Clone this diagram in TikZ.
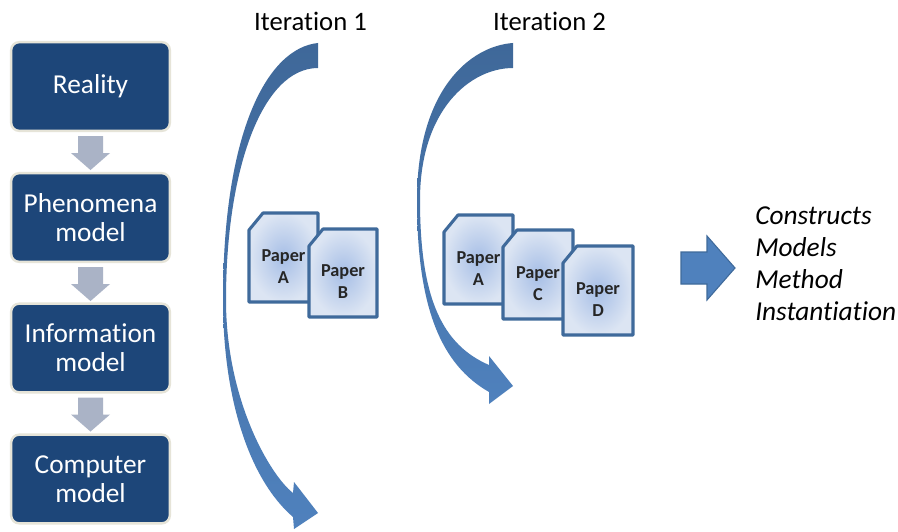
\documentclass[tikz,border=0pt]{standalone}
\usepackage{fontspec}
\setmainfont[Ligatures=NoCommon]{Carlito}
\usetikzlibrary{calc}
\definecolor{boxblue}{HTML}{1D4679}
\definecolor{boxedge}{HTML}{E6E4D8}
\definecolor{downgray}{HTML}{AAB3C6}
\definecolor{arrowdark}{HTML}{3F6899}
\definecolor{arrowblue}{HTML}{4F81BD}
\definecolor{paperedge}{HTML}{3F6A9B}
\definecolor{paperin}{HTML}{A6BEE6}
\definecolor{paperout}{HTML}{DCE5F3}
\tikzset{
  x=0.75pt,y=-0.75pt,
  stepbox/.style={draw=boxedge,line width=1.8pt,fill=boxblue,rounded corners=6pt,minimum width=119pt,minimum height=66.5pt,inner sep=0pt,align=center,text=white,font=\fontsize{20.5}{22}\selectfont},
  downarrow/.style={fill=downgray},
  sweep/.style={top color=arrowdark,bottom color=arrowblue,draw=none},
  sheet/.style={draw=paperedge,line width=2.3pt,line join=round,shade,shading=radial,inner color=paperin,outer color=paperout},
  sheetlabel/.style={align=center,font=\fontsize{13.7}{16.5}\selectfont\bfseries,text=black!85,inner sep=0pt},
  headlabel/.style={font=\fontsize{20}{24}\selectfont,inner sep=0pt},
  outlabel/.style={font=\fontsize{20.5}{24}\selectfont\itshape,align=left,inner sep=0pt,anchor=north west}
}
\newcommand{\downbetween}[1]{%
  \fill[downarrow] ($(#1.south)+(-12.5,4)$) -- ++(25,0) -- ++(0,17) -- ++(7,0) -- ++(-19.5,17) -- ++(-19.5,-17) -- ++(7,0) -- cycle;}
\newcommand{\sheetat}[5]{% left, top, right, bottom, name
  \path[sheet] (#1+14,#2) -- (#3,#2) -- (#3,#4) -- (#1,#4) -- (#1,#2+17) -- cycle;
  \node[sheetlabel] (#5) at ({(#1+#3)/2},{(#2+#4)/2+9}) {\sheettext};}
\newcommand{\sheettext}{}
\begin{document}
\begin{tikzpicture}
\useasboundingbox (0,0) rectangle (898,531);
\fill[white] (0,0) rectangle (898,531);
\node[stepbox] (reality) at (90.5,86.5) {Reality};
\node[stepbox] (phen) at (90.5,217.5) {Phenomena\\model};
\node[stepbox] (info) at (90.5,348) {Information\\model};
\node[stepbox] (comp) at (90.5,479) {Computer\\model};
\downbetween{reality}
\downbetween{phen}
\downbetween{info}
% iteration 1 sweep
\path[sweep] (318,43) .. controls (268,48) and (223,130) .. (223,300)
  .. controls (223,400) and (250,480) .. (293,517)
  -- (294,529) -- (318,513) -- (294,482) -- (293,493)
  .. controls (270,475) and (226,400) .. (226,300)
  .. controls (226,170) and (262,68) .. (318,68) -- cycle;
% iteration 2 sweep
\path[sweep] (513,43) .. controls (470,46) and (417,90) .. (417,200)
  .. controls (417,310) and (442,365) .. (489,392)
  -- (489,404) -- (513,386) -- (489,356) -- (489,365)
  .. controls (443,345) and (420,300) .. (420,200)
  .. controls (420,110) and (470,68) .. (513,68) -- cycle;
\renewcommand{\sheettext}{Paper\\A}
\sheetat{249}{213}{318}{302}{pa}
\renewcommand{\sheettext}{Paper\\B}
\sheetat{309}{229}{377}{317}{pb}
\renewcommand{\sheettext}{Paper\\A}
\sheetat{444}{215}{513}{304}{pa2}
\renewcommand{\sheettext}{Paper\\C}
\sheetat{503}{230}{573}{319}{pc}
\renewcommand{\sheettext}{Paper\\D}
\sheetat{563}{246}{633}{335}{pd}
\node[headlabel] (it1) at (310.5,21) {Iteration 1};
\node[headlabel] (it2) at (549.5,21) {Iteration 2};
\fill[arrowblue,draw=paperedge,line width=0.8pt] (681,252) -- (707,252) -- (707,236) -- (735,268) -- (707,300) -- (707,284) -- (681,284) -- cycle;
\node[outlabel] (out) at (755,206) {Constructs\\Models\\Method\\Instantiation};
\end{tikzpicture}
\end{document}
